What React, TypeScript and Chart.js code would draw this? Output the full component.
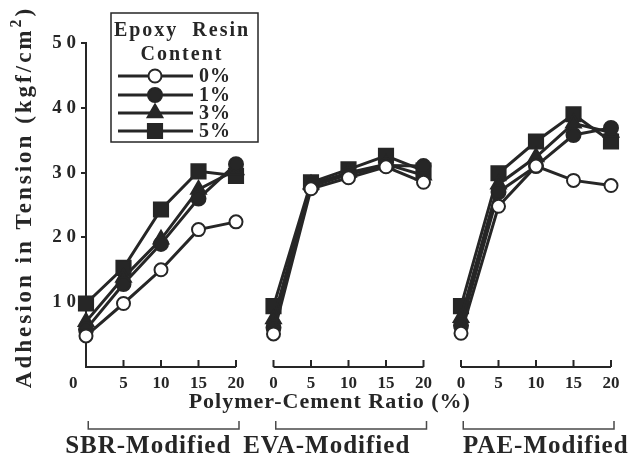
import React, { useEffect, useRef } from 'react';
import { Chart, registerables } from 'chart.js';

Chart.register(...registerables);

// ---- data ----
const ratios = [0, 5, 10, 15, 20];
const panelNames = ['SBR-Modified', 'EVA-Modified', 'PAE-Modified'];
const panelOffsets = [0, 25, 50];
const epoxyLabels = ['0%', '1%', '3%', '5%'];

const sbr0 = [4.8, 9.8, 15.0, 21.2, 22.4];
const sbr1 = [5.8, 12.8, 19.0, 26.0, 31.3];
const sbr3 = [7.0, 13.8, 19.7, 27.4, 30.4];
const sbr5 = [9.8, 15.3, 24.3, 30.2, 29.5];

const eva0 = [5.1, 27.5, 29.2, 30.9, 28.5];
const eva1 = [6.1, 27.9, 29.7, 31.1, 31.0];
const eva3 = [7.4, 28.2, 30.0, 31.3, 29.6];
const eva5 = [9.4, 28.5, 30.5, 32.6, 30.3];

const pae0 = [5.2, 24.8, 31.0, 28.8, 28.0];
const pae1 = [6.4, 27.0, 31.0, 35.8, 36.9];
const pae3 = [7.6, 28.2, 32.4, 37.6, 36.2];
const pae5 = [9.4, 29.9, 34.8, 39.0, 34.8];

const yTickValues = [10, 20, 30, 40, 50];
const yTickTexts = ['1 0', '2 0', '3 0', '4 0', '5 0'];
const xTickTexts = ['0', '5', '10', '15', '20'];

const yTitleMain = 'Adhesion in Tension (kgf/cm';
const yTitleSup = '2';
const yTitleEnd = ')';
const xTitle = 'Polymer-Cement Ratio (%)';
const legendTitle = ['Epoxy  Resin', 'Content'];

const INK = '#262626';
const FONT = "'Liberation Serif', 'Times New Roman', serif";

const seriesByEpoxy = [
  [sbr0, eva0, pae0],
  [sbr1, eva1, pae1],
  [sbr3, eva3, pae3],
  [sbr5, eva5, pae5],
];

const markerStyles = [
  { pointStyle: 'circle', radius: 6.5, fill: '#ffffff' },
  { pointStyle: 'circle', radius: 7, fill: INK },
  { pointStyle: 'triangle', radius: 8.5, fill: INK },
  { pointStyle: 'rect', radius: 10, fill: INK },
];

function buildPoints(panelSeries: number[][]) {
  const pts: { x: number; y: number | null }[] = [];
  panelSeries.forEach((vals, p) => {
    if (p > 0) pts.push({ x: panelOffsets[p] - 2.5, y: null });
    vals.forEach((v, i) => pts.push({ x: panelOffsets[p] + ratios[i], y: v }));
  });
  return pts;
}

function drawMarker(ctx: CanvasRenderingContext2D, style: string, x: number, y: number, r: number) {
  ctx.beginPath();
  if (style === 'circle') {
    ctx.arc(x, y, r, 0, Math.PI * 2);
  } else if (style === 'triangle') {
    let rad = 0;
    ctx.moveTo(x + Math.sin(rad) * r, y - Math.cos(rad) * r);
    rad += (2 * Math.PI) / 3;
    ctx.lineTo(x + Math.sin(rad) * r, y - Math.cos(rad) * r);
    rad += (2 * Math.PI) / 3;
    ctx.lineTo(x + Math.sin(rad) * r, y - Math.cos(rad) * r);
  } else {
    const s = Math.SQRT1_2 * r;
    ctx.rect(x - s, y - s, 2 * s, 2 * s);
  }
  ctx.closePath();
  ctx.fill();
  ctx.stroke();
}

function panelOf(v: number) {
  let p = 0;
  panelOffsets.forEach((o, i) => {
    if (v >= o) p = i;
  });
  return p;
}

const decorPlugin = {
  id: 'decor',
  afterDraw(chart: any) {
    const ctx: CanvasRenderingContext2D = chart.ctx;
    const xs = chart.scales.x;
    const ys = chart.scales.y;
    const y0 = ys.getPixelForValue(0);
    ctx.save();
    // broken x axes with inward ticks
    ctx.strokeStyle = INK;
    ctx.lineWidth = 2;
    panelOffsets.forEach((off, p) => {
      ctx.beginPath();
      ctx.moveTo(xs.getPixelForValue(off + ratios[0]), y0);
      ctx.lineTo(xs.getPixelForValue(off + ratios[ratios.length - 1]), y0);
      ratios.forEach((r) => {
        if (p === 0 && r === 0) return;
        const px = xs.getPixelForValue(off + r);
        ctx.moveTo(px, y0);
        ctx.lineTo(px, y0 - 7);
      });
      ctx.stroke();
    });

    // y title (rotated, letter-spaced, with superscript)
    ctx.save();
    ctx.fillStyle = INK;
    const yMid = (ys.getPixelForValue(0) + ys.getPixelForValue(50)) / 2 - 8;
    ctx.translate(25, yMid);
    ctx.rotate(-Math.PI / 2);
    ctx.textBaseline = 'middle';
    ctx.textAlign = 'left';
    (ctx as any).letterSpacing = '3px';
    ctx.font = `bold 23px ${FONT}`;
    const w1 = ctx.measureText(yTitleMain).width;
    const w3 = ctx.measureText(yTitleEnd).width;
    ctx.font = `bold 16px ${FONT}`;
    const w2 = ctx.measureText(yTitleSup).width;
    let cx = -(w1 + w2 + w3) / 2;
    ctx.font = `bold 23px ${FONT}`;
    ctx.fillText(yTitleMain, cx, 0);
    cx += w1;
    ctx.font = `bold 16px ${FONT}`;
    ctx.fillText(yTitleSup, cx, -8);
    cx += w2;
    ctx.font = `bold 23px ${FONT}`;
    ctx.fillText(yTitleEnd, cx, 0);
    ctx.restore();

    // x title
    ctx.fillStyle = INK;
    ctx.font = `bold 22px ${FONT}`;
    (ctx as any).letterSpacing = '1px';
    ctx.textAlign = 'center';
    ctx.textBaseline = 'middle';
    ctx.fillText(xTitle, xs.getPixelForValue(32.5), y0 + 35);

    // brackets and panel names
    const labelCenters = [8.3, 32.1, 61.3];
    ctx.strokeStyle = '#4a4a4a';
    ctx.lineWidth = 1.5;
    panelOffsets.forEach((off, p) => {
      const a = xs.getPixelForValue(off + 0.3);
      const b = xs.getPixelForValue(off + 20.4);
      ctx.beginPath();
      ctx.moveTo(a, y0 + 54);
      ctx.lineTo(a, y0 + 62);
      ctx.lineTo(b, y0 + 62);
      ctx.lineTo(b, y0 + 54);
      ctx.stroke();
      ctx.font = `bold 25px ${FONT}`;
      (ctx as any).letterSpacing = '1px';
      ctx.textBaseline = 'alphabetic';
      ctx.fillText(panelNames[p], xs.getPixelForValue(labelCenters[p]), y0 + 86);
    });

    // legend
    const lx = 111, ly = 13, lw = 147, lh = 129;
    ctx.fillStyle = '#ffffff';
    ctx.fillRect(lx, ly, lw, lh);
    ctx.strokeStyle = INK;
    ctx.lineWidth = 1.5;
    ctx.strokeRect(lx, ly, lw, lh);
    ctx.fillStyle = INK;
    ctx.font = `bold 20px ${FONT}`;
    (ctx as any).letterSpacing = '2px';
    ctx.textAlign = 'center';
    ctx.textBaseline = 'middle';
    ctx.fillText(legendTitle[0], lx + 71, ly + 18);
    ctx.fillText(legendTitle[1], lx + 71, ly + 42);
    const rowY = [76, 95, 113, 131];
    chart.data.datasets.forEach((ds: any, i: number) => {
      const y = rowY[i];
      ctx.strokeStyle = INK;
      ctx.lineWidth = 3;
      ctx.beginPath();
      ctx.moveTo(118, y);
      ctx.lineTo(193, y);
      ctx.stroke();
      ctx.lineWidth = 2;
      ctx.fillStyle = ds.pointBackgroundColor;
      drawMarker(ctx, ds.pointStyle, 155, y, ds.pointRadius);
      ctx.fillStyle = INK;
      ctx.font = `bold 20px ${FONT}`;
      (ctx as any).letterSpacing = '1px';
      ctx.textAlign = 'left';
      ctx.fillText(ds.label, 199, y + 1);
    });
    ctx.restore();
  },
};

export default function App() {
  const ref = useRef<HTMLCanvasElement>(null);
  useEffect(() => {
    document.body.style.margin = '0';
    const datasets = seriesByEpoxy.map((panelSeries, i) => ({
      label: epoxyLabels[i],
      data: buildPoints(panelSeries),
      borderColor: INK,
      borderWidth: 3,
      pointStyle: markerStyles[i].pointStyle,
      pointRadius: markerStyles[i].radius,
      pointBackgroundColor: markerStyles[i].fill,
      pointBorderColor: INK,
      pointBorderWidth: 2,
      spanGaps: false,
      clip: false,
      tension: 0,
    }));
    const chart = new Chart(ref.current!, {
      type: 'line',
      data: { datasets },
      plugins: [decorPlugin],
      options: {
        responsive: false,
        animation: false,
        events: [],
        layout: { padding: { top: 43, right: 22, bottom: 0, left: 0 } },
        plugins: { legend: { display: false }, tooltip: { enabled: false } },
        scales: {
          x: {
            type: 'linear',
            min: 0,
            max: 70,
            grid: { display: false, drawTicks: false },
            border: { display: false },
            ticks: {
              stepSize: 5,
              autoSkip: false,
              maxRotation: 0,
              padding: 6,
              color: INK,
              font: { family: FONT, size: 17, weight: 'bold' },
              callback: (v: any) => {
                const p = panelOf(v);
                const local = v - panelOffsets[p];
                const idx = ratios.indexOf(local);
                if (idx < 0) return '';
                if (p === 0 && local === 0) return xTickTexts[idx] + '\u2007\u2007\u2007';
                return xTickTexts[idx];
              },
            },
            afterFit: (s: any) => {
              s.height = 88;
            },
          },
          y: {
            min: 0,
            max: 50,
            grid: { display: true, drawOnChartArea: false, drawTicks: true, tickLength: 5, color: INK, lineWidth: 2 },
            border: { display: true, color: INK, width: 2 },
            ticks: {
              stepSize: 10,
              padding: 5,
              color: INK,
              font: { family: FONT, size: 19, weight: 'bold' },
              callback: (v: any) => {
                const idx = yTickValues.indexOf(v);
                return idx >= 0 ? yTickTexts[idx] : '';
              },
            },
            afterBuildTicks: (s: any) => {
              s.ticks = s.ticks.filter((t: any) => yTickValues.includes(t.value));
            },
            afterFit: (s: any) => {
              s.width = 86;
            },
          },
        },
      },
    } as any);
    return () => chart.destroy();
  }, []);
  return (
    <div style={{ width: 633, height: 455, background: '#ffffff' }}>
      <canvas ref={ref} width={633} height={455} style={{ display: 'block' }} />
    </div>
  );
}
